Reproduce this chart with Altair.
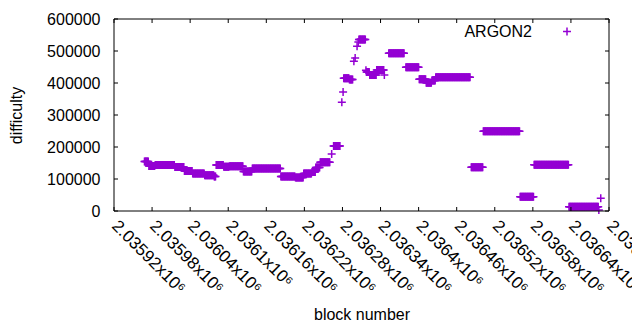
import altair as alt
import pandas as pd

# Runs of constant difficulty (start block, end block, difficulty)
run_start = [2035968, 2035975, 2035985, 2036016, 2036031, 2036044, 2036063, 2036078,
             2036081, 2036093, 2036102, 2036124, 2036138, 2036183, 2036206, 2036219,
             2036232, 2036238, 2036245, 2036263, 2036266, 2036279, 2036281, 2036282,
             2036291, 2036298, 2036300, 2036303, 2036305, 2036306, 2036317, 2036318,
             2036323, 2036334, 2036346, 2036353, 2036380, 2036401, 2036412, 2036421,
             2036427, 2036483, 2036502, 2036560, 2036582, 2036637, 2036684, 2036687]
run_end = [2035974, 2035984, 2036015, 2036030, 2036043, 2036062, 2036077, 2036080,
           2036092, 2036101, 2036123, 2036137, 2036182, 2036205, 2036218, 2036231,
           2036237, 2036244, 2036260, 2036263, 2036276, 2036279, 2036281, 2036290,
           2036296, 2036298, 2036300, 2036303, 2036305, 2036316, 2036317, 2036322,
           2036333, 2036345, 2036346, 2036377, 2036400, 2036411, 2036420, 2036426,
           2036481, 2036501, 2036559, 2036581, 2036636, 2036683, 2036684, 2036687]
run_difficulty = [155000, 141000, 144000, 137500, 125000, 117000, 112000, 108000,
                  144000, 138000, 140000, 123600, 133000, 108000, 105000, 117000,
                  122000, 136000, 152000, 178000, 203000, 340000, 372000, 415000,
                  411000, 468000, 478000, 515000, 528000, 536000, 440000, 434000,
                  425000, 441000, 425000, 493000, 449000, 411500, 401000, 408000,
                  418000, 136500, 249000, 44700, 144700, 13400, 3000, 39600]

x_ticks = [2035920, 2035980, 2036040, 2036100, 2036160, 2036220, 2036280,
           2036340, 2036400, 2036460, 2036520, 2036580, 2036640, 2036700]
x_tick_labels = ["2.03592x10⁶", "2.03598x10⁶", "2.03604x10⁶", "2.0361x10⁶",
                 "2.03616x10⁶", "2.03622x10⁶", "2.03628x10⁶", "2.03634x10⁶",
                 "2.0364x10⁶", "2.03646x10⁶", "2.03652x10⁶", "2.03658x10⁶",
                 "2.03664x10⁶", "2.0367x10⁶"]
y_ticks = [0, 100000, 200000, 300000, 400000, 500000, 600000]
legend_label = ["ARGON2"]

rows = [{"block": b, "difficulty": d}
        for s, e, d in zip(run_start, run_end, run_difficulty)
        for b in range(s, e + 1)]
df = pd.DataFrame(rows)

W, H = 495, 192
FONT = "Liberation Sans"
FS = 16
PURPLE = "#9400D3"
PLUS = "M-1,0L1,0M0,-1L0,1"

label_expr = ("[" + ",".join("'%s'" % l for l in x_tick_labels) + "][indexof(["
              + ",".join(str(v) for v in x_ticks) + "], datum.value)]")

xscale = alt.Scale(domain=[x_ticks[0], x_ticks[-1]], nice=False, zero=False)
yscale = alt.Scale(domain=[y_ticks[0], y_ticks[-1]], nice=False, zero=False)

x_axis = alt.Axis(
    values=x_ticks, labelExpr=label_expr, title="block number",
    labelAngle=45, labelAlign="left", labelBaseline="middle", labelPadding=12,
    ticks=False, domain=False, grid=False, labelFontSize=17, titleFontSize=FS,
    labelFont=FONT, titleFont=FONT, labelColor="black", titleColor="black",
    titleFontWeight="normal", labelOverlap=False, labelBound=False,
    labelFlush=False, titleY=108, titleBaseline="alphabetic")
y_axis = alt.Axis(
    values=y_ticks, format="d", title="difficulty", ticks=False, domain=False,
    grid=False, labelPadding=14, labelFontSize=FS, titleFontSize=FS,
    labelFont=FONT, titleFont=FONT, labelColor="black", titleColor="black",
    titleFontWeight="normal", titleX=-98, titleBaseline="middle",
    labelOverlap=False)

X = lambda: alt.X("block:Q", scale=xscale, axis=x_axis)
Y = lambda: alt.Y("difficulty:Q", scale=yscale, axis=y_axis)

points = alt.Chart(df).mark_point(
    shape=PLUS, size=64, filled=False, strokeWidth=1.5, color=PURPLE, opacity=1
).encode(x=X(), y=Y())

xt = pd.DataFrame({"block": x_ticks})
yt = pd.DataFrame({"difficulty": y_ticks})
tick_style = dict(color="black", strokeWidth=1)
xb = alt.Chart(xt).mark_rule(**tick_style).encode(
    x=X(), y=alt.value(H), y2=alt.value(H - 4))
xtop = alt.Chart(xt).mark_rule(**tick_style).encode(
    x=X(), y=alt.value(0), y2=alt.value(4))
yl = alt.Chart(yt).mark_rule(**tick_style).encode(
    y=Y(), x=alt.value(0), x2=alt.value(4))
yr = alt.Chart(yt).mark_rule(**tick_style).encode(
    y=Y(), x=alt.value(W - 4), x2=alt.value(W))

leg_df = pd.DataFrame({"label": legend_label})
frame = alt.Chart(leg_df).mark_rect(
    fillOpacity=0, stroke="black", strokeWidth=1
).encode(x=alt.value(0), x2=alt.value(W), y=alt.value(0), y2=alt.value(H))
leg_text = alt.Chart(leg_df).mark_text(
    align="right", baseline="middle", fontSize=FS, font=FONT, color="black"
).encode(text="label:N", x=alt.value(418), y=alt.value(12.5))
leg_pt = alt.Chart(leg_df).mark_point(
    shape=PLUS, size=64, filled=False, strokeWidth=1.5, color=PURPLE, opacity=1
).encode(x=alt.value(453), y=alt.value(12.5))

chart = alt.layer(points, xb, xtop, yl, yr, frame, leg_text, leg_pt).properties(
    width=W, height=H,
    autosize=alt.AutoSizeParams(type="none"),
    padding={"left": 106, "top": 11, "right": 23, "bottom": 111},
).configure_view(stroke=None)

chart.save("out.html", embed_options={"renderer": "svg", "actions": False})
